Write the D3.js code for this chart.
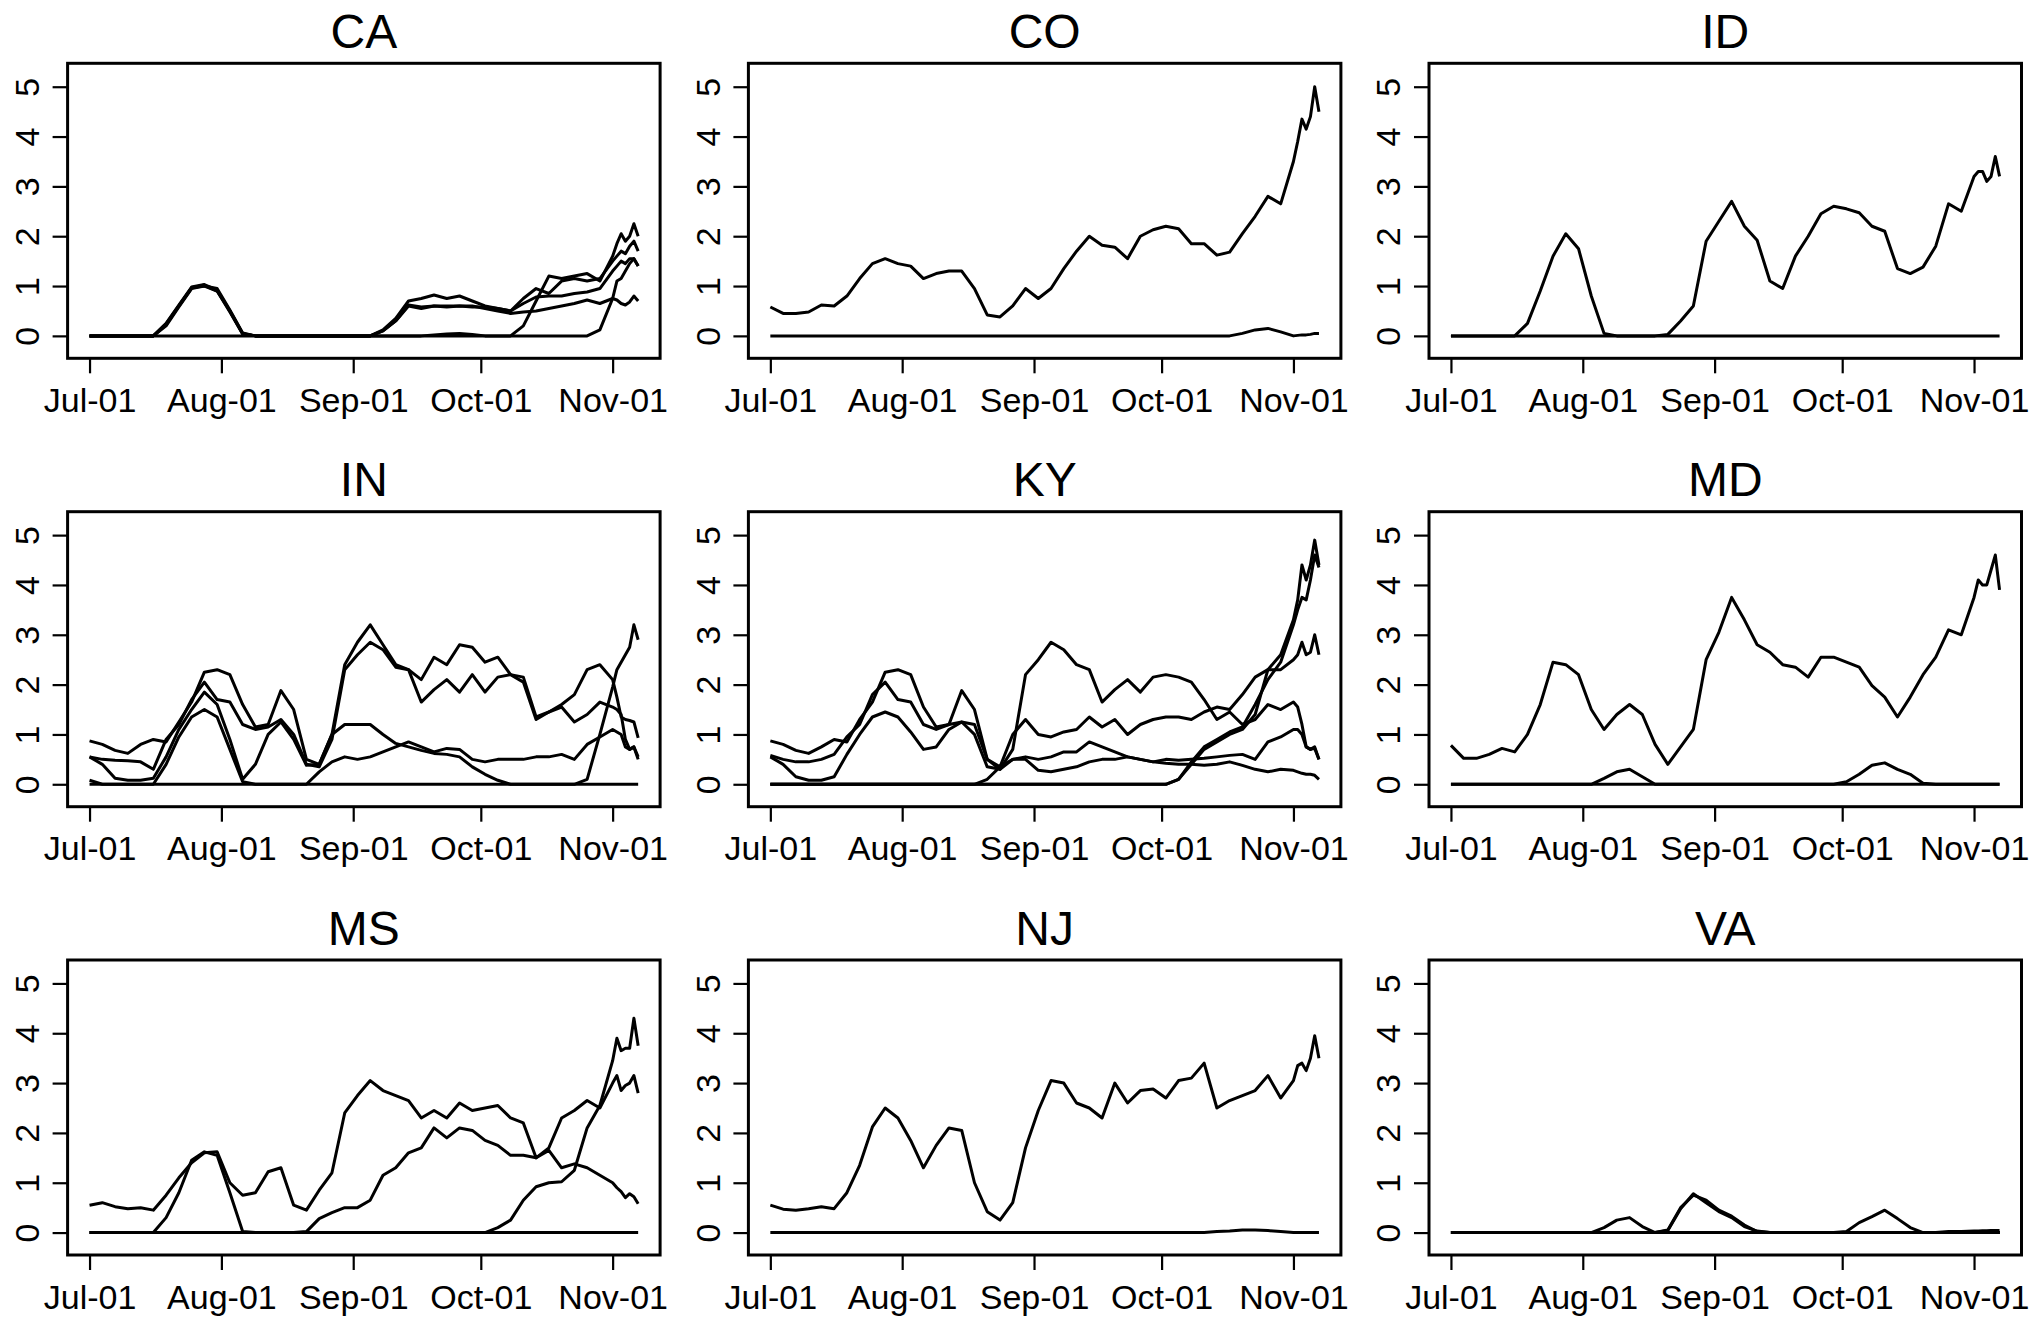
<!DOCTYPE html>
<html>
<head>
<meta charset="utf-8">
<script src="https://cdn.jsdelivr.net/npm/d3@7"></script>
<style>
  body { margin: 0; background: #fff; }
  text { font-family: "Liberation Sans", Arial, Helvetica, sans-serif; fill: #000; }
</style>
</head>
<body>
<script>
const days = [0,3,6,9,12,15,18,21,24,27,30,33,
              36,39,42,45,48,51,54,57,60,63,66,69,
              72,75,78,81,84,87,90,93,96,99,102,105,
              108,111,114,117,120,123,124,125,126,127,128,129]

const stateNames = ["CA", "CO", "ID", "IN", "KY", "MD", "MS", "NJ", "VA"]
const yTicks = [0, 1, 2, 3, 4, 5]
const monthTicks = ["2020-07-01", "2020-08-01", "2020-09-01", "2020-10-01", "2020-11-01"]

const CA = [
  [0,0,0,0,0,0,0.25,0.62,0.98,1.03,0.92,0.5,
   0.05,0,0,0,0,0,0,0,0,0,0,0.12,
   0.35,0.7,0.75,0.82,0.75,0.8,0.7,0.6,0.55,0.5,0.75,0.95,
   0.85,1.1,1.15,1.1,1.15,1.5,1.6,1.7,1.65,1.8,1.9,1.7],
  [0,0,0,0,0,0,0.22,0.6,0.97,1.0,0.9,0.48,
   0.04,0,0,0,0,0,0,0,0,0,0,0.1,
   0.3,0.62,0.58,0.6,0.58,0.6,0.58,0.58,0.55,0.5,0.65,0.78,
   0.8,0.8,0.85,0.88,0.95,1.3,1.4,1.5,1.45,1.55,1.55,1.4],
  [0,0,0,0,0,0,0.2,0.58,0.95,1.0,0.95,0.52,
   0.06,0,0,0,0,0,0,0,0,0,0,0.1,
   0.3,0.6,0.55,0.6,0.6,0.6,0.6,0.55,0.5,0.45,0.48,0.5,
   0.55,0.6,0.65,0.72,0.65,0.75,0.72,0.65,0.62,0.68,0.8,0.7],
  [0,0,0,0,0,0,0,0,0,0,0,0,
   0,0,0,0,0,0,0,0,0,0,0,0,
   0,0,0,0.02,0.04,0.05,0.03,0,0,0,0.2,0.7,
   1.2,1.15,1.2,1.25,1.1,1.6,1.85,2.05,1.9,2.0,2.25,2.0],
  [0,0,0,0,0,0,0.24,0.6,0.96,1.02,0.9,0.5,
   0.04,0,0,0,0,0,0,0,0,0,0,0,
   0,0,0,0,0,0,0,0,0,0,0,0,
   0,0,0,0,0.12,0.75,1.1,1.15,1.3,1.45,1.55,1.4]
]

const CO = [
  [0.58,0.45,0.45,0.48,0.62,0.6,0.8,1.15,1.45,1.55,1.45,1.4,
   1.15,1.25,1.3,1.3,0.95,0.42,0.38,0.6,0.95,0.75,0.95,1.35,
   1.7,2.0,1.82,1.78,1.55,2.0,2.13,2.2,2.15,1.85,1.85,1.62,
   1.68,2.05,2.4,2.8,2.65,3.5,3.9,4.35,4.15,4.4,5.0,4.5],
  [0,0,0,0,0,0,0,0,0,0,0,0,
   0,0,0,0,0,0,0,0,0,0,0,0,
   0,0,0,0,0,0,0,0,0,0,0,0,
   0,0.05,0.12,0.15,0.08,0,0.01,0.02,0.02,0.03,0.05,0.05]
]

const ID = [
  [0,0,0,0,0,0,0.25,0.9,1.6,2.05,1.75,0.8,
   0.05,0,0,0,0,0.03,0.3,0.6,1.9,2.3,2.7,2.2,
   1.92,1.1,0.95,1.6,2.0,2.45,2.6,2.55,2.47,2.2,2.1,1.35,
   1.25,1.38,1.8,2.65,2.5,3.2,3.3,3.3,3.1,3.2,3.6,3.2],
  [0,0,0,0,0,0,0,0,0,0,0,0,
   0,0,0,0,0,0,0,0,0,0,0,0,
   0,0,0,0,0,0,0,0,0,0,0,0,
   0,0,0,0,0,0,0,0,0,0,0,0]
]

const IN = [
  [0.87,0.8,0.68,0.62,0.8,0.9,0.85,1.25,1.65,2.25,2.3,2.2,
   1.6,1.15,1.2,1.88,1.5,0.5,0.4,1.0,2.4,2.85,3.2,2.8,
   2.4,2.3,2.1,2.55,2.4,2.8,2.75,2.45,2.55,2.2,2.15,1.35,
   1.45,1.6,1.8,2.3,2.4,2.1,1.75,1.35,1.3,1.28,1.25,0.93],
  [0.55,0.5,0.48,0.47,0.45,0.3,0.9,1.2,1.7,2.05,1.7,1.65,
   1.2,1.1,1.15,1.3,1.0,0.4,0.35,0.9,2.3,2.6,2.85,2.7,
   2.35,2.3,1.65,1.9,2.1,1.85,2.2,1.85,2.15,2.2,2.05,1.3,
   1.45,1.55,1.25,1.4,1.65,1.55,1.5,1.4,0.9,0.7,0.75,0.5],
  [0.55,0.4,0.12,0.08,0.08,0.12,0.55,1.1,1.5,1.85,1.6,0.9,
   0.1,0.4,1.0,1.25,0.9,0.38,0.4,1.0,1.2,1.2,1.2,1.0,
   0.82,0.75,0.68,0.62,0.6,0.55,0.35,0.2,0.08,0,0,0,
   0,0,0,0.1,1.0,1.95,2.3,2.45,2.6,2.75,3.2,2.9],
  [0.08,0,0,0,0,0,0.4,0.95,1.35,1.5,1.35,0.7,
   0.05,0,0,0,0,0,0.25,0.45,0.55,0.5,0.55,0.65,
   0.75,0.85,0.75,0.65,0.72,0.7,0.5,0.45,0.5,0.5,0.5,0.55,
   0.55,0.6,0.5,0.8,0.95,1.1,1.05,1.0,0.75,0.7,0.75,0.55],
  [0,0,0,0,0,0,0,0,0,0,0,0,
   0,0,0,0,0,0,0,0,0,0,0,0,
   0,0,0,0,0,0,0,0,0,0,0,0,
   0,0,0,0,0,0,0,0,0,0,0,0]
]

const KY = [
  [0.87,0.8,0.68,0.62,0.75,0.9,0.85,1.3,1.65,2.25,2.3,2.2,
   1.55,1.15,1.2,1.88,1.5,0.5,0.35,1.0,1.3,1.0,0.95,1.05,
   1.1,1.35,1.15,1.3,1.0,1.2,1.3,1.35,1.35,1.3,1.45,1.55,
   1.5,1.8,2.15,2.3,2.3,2.5,2.6,2.85,2.6,2.65,3.0,2.6],
  [0.58,0.5,0.45,0.45,0.5,0.6,0.95,1.2,1.8,2.05,1.7,1.65,
   1.2,1.1,1.2,1.25,1.2,0.5,0.3,0.7,2.2,2.5,2.85,2.7,
   2.4,2.3,1.65,1.9,2.1,1.85,2.15,2.2,2.15,2.05,1.7,1.3,
   1.45,1.2,1.3,1.6,1.5,1.65,1.55,1.2,0.75,0.7,0.72,0.5],
  [0.55,0.4,0.15,0.08,0.08,0.15,0.6,1.0,1.35,1.45,1.35,1.05,
   0.7,0.75,1.1,1.25,1.0,0.35,0.3,0.5,0.5,0.28,0.25,0.3,
   0.35,0.45,0.5,0.5,0.55,0.5,0.45,0.42,0.4,0.4,0.38,0.4,
   0.45,0.38,0.3,0.25,0.3,0.28,0.25,0.22,0.2,0.2,0.18,0.1],
  [0,0,0,0,0,0,0,0,0,0,0,0,
   0,0,0,0,0,0.1,0.35,0.5,0.55,0.5,0.55,0.65,
   0.65,0.85,0.75,0.65,0.55,0.5,0.45,0.5,0.48,0.5,0.52,0.55,
   0.58,0.6,0.5,0.85,0.95,1.1,1.1,1.0,0.75,0.7,0.75,0.5],
  [0,0,0,0,0,0,0,0,0,0,0,0,
   0,0,0,0,0,0,0,0,0,0,0,0,
   0,0,0,0,0,0,0,0,0.1,0.4,0.7,0.85,
   1.0,1.1,1.4,2.3,2.6,3.3,3.7,4.4,4.1,4.4,4.9,4.4],
  [0,0,0,0,0,0,0,0,0,0,0,0,
   0,0,0,0,0,0,0,0,0,0,0,0,
   0,0,0,0,0,0,0,0,0.1,0.45,0.75,0.9,
   1.05,1.15,1.6,2.1,2.45,3.2,3.5,3.75,3.7,4.1,4.6,4.35]
]

const MD = [
  [0.78,0.52,0.52,0.6,0.72,0.65,1.0,1.6,2.45,2.4,2.2,1.5,
   1.1,1.4,1.6,1.4,0.8,0.4,0.75,1.1,2.5,3.05,3.75,3.3,
   2.8,2.65,2.4,2.35,2.15,2.55,2.55,2.45,2.35,1.98,1.75,1.35,
   1.75,2.2,2.55,3.1,3.0,3.75,4.1,4.0,4.0,4.3,4.6,3.9],
  [0,0,0,0,0,0,0,0,0,0,0,0,
   0.12,0.25,0.3,0.15,0,0,0,0,0,0,0,0,
   0,0,0,0,0,0,0,0.05,0.2,0.38,0.43,0.3,
   0.2,0.02,0,0,0,0,0,0,0,0,0,0],
  [0,0,0,0,0,0,0,0,0,0,0,0,
   0,0,0,0,0,0,0,0,0,0,0,0,
   0,0,0,0,0,0,0,0,0,0,0,0,
   0,0,0,0,0,0,0,0,0,0,0,0]
]

const MS = [
  [0.55,0.6,0.52,0.48,0.5,0.45,0.75,1.1,1.4,1.6,1.62,1.0,
   0.75,0.8,1.22,1.3,0.55,0.45,0.85,1.2,2.4,2.75,3.05,2.85,
   2.75,2.65,2.3,2.45,2.3,2.6,2.45,2.5,2.55,2.3,2.2,1.5,
   1.65,1.3,1.38,1.3,1.15,1.0,0.9,0.82,0.7,0.78,0.72,0.58],
  [0,0,0,0,0,0,0.3,0.8,1.45,1.62,1.55,0.8,
   0.02,0,0,0,0,0.02,0.28,0.4,0.5,0.5,0.65,1.15,
   1.3,1.6,1.7,2.1,1.9,2.1,2.05,1.85,1.75,1.55,1.55,1.5,
   1.7,2.3,2.45,2.65,2.5,3.0,3.15,2.85,2.95,3.0,3.15,2.8],
  [0,0,0,0,0,0,0,0,0,0,0,0,
   0,0,0,0,0,0,0,0,0,0,0,0,
   0,0,0,0,0,0,0,0,0.1,0.25,0.65,0.92,
   1.0,1.02,1.25,2.1,2.55,3.45,3.9,3.65,3.7,3.7,4.3,3.75],
  [0,0,0,0,0,0,0,0,0,0,0,0,
   0,0,0,0,0,0,0,0,0,0,0,0,
   0,0,0,0,0,0,0,0,0,0,0,0,
   0,0,0,0,0,0,0,0,0,0,0,0]
]

const NJ = [
  [0.55,0.47,0.45,0.48,0.52,0.48,0.8,1.35,2.12,2.5,2.3,1.85,
   1.3,1.75,2.1,2.05,1.0,0.42,0.25,0.6,1.7,2.45,3.05,3.0,
   2.6,2.5,2.3,3.0,2.6,2.85,2.88,2.7,3.05,3.1,3.4,2.5,
   2.65,2.75,2.85,3.15,2.7,3.05,3.35,3.4,3.25,3.5,3.95,3.5],
  [0,0,0,0,0,0,0,0,0,0,0,0,
   0,0,0,0,0,0,0,0,0,0,0,0,
   0,0,0,0,0,0,0,0,0,0,0,0.02,
   0.03,0.05,0.05,0.04,0.02,0,0,0,0,0,0,0]
]

const VA = [
  [0,0,0,0,0,0,0,0,0,0,0,0,
   0.1,0.25,0.3,0.12,0,0,0,0,0,0,0,0,
   0,0,0,0,0,0,0,0,0,0,0,0,
   0,0,0,0,0,0,0,0,0,0,0,0],
  [0,0,0,0,0,0,0,0,0,0,0,0,
   0,0,0,0,0,0.05,0.5,0.75,0.65,0.45,0.33,0.15,
   0.02,0,0,0,0,0,0,0,0,0,0,0,
   0,0,0,0,0,0,0,0,0,0,0,0],
  [0,0,0,0,0,0,0,0,0,0,0,0,
   0,0,0,0,0,0.04,0.48,0.78,0.6,0.42,0.3,0.12,
   0.03,0,0,0,0,0,0,0,0,0,0,0,
   0,0,0,0,0,0,0,0,0,0,0,0],
  [0,0,0,0,0,0,0,0,0,0,0,0,
   0,0,0,0,0,0,0,0,0,0,0,0,
   0,0,0,0,0,0,0,0.02,0.2,0.32,0.45,0.28,
   0.1,0,0,0,0,0,0,0,0,0,0,0],
  [0,0,0,0,0,0,0,0,0,0,0,0,
   0,0,0,0,0,0,0,0,0,0,0,0,
   0,0,0,0,0,0,0,0,0,0,0,0,
   0,0,0,0.02,0.02,0.03,0.03,0.035,0.035,0.04,0.04,0.04],
  [0,0,0,0,0,0,0,0,0,0,0,0,
   0,0,0,0,0,0,0,0,0,0,0,0,
   0,0,0,0,0,0,0,0,0,0,0,0,
   0,0,0,0,0,0,0,0,0,0,0,0]
]

const seriesByState = [CA, CO, ID, IN, KY, MD, MS, NJ, VA]

var width = 2038
var height = 1318
const colLeft = [67.6, 748.4, 1429]
const rowTop = [63.3, 511.7, 960]
const boxW = 592.5
const boxH = 295

const DAY = 864e5
const start = Date.UTC(2020, 6, 1)
const toDate = d => new Date(start + d * DAY)
const fmt = d3.utcFormat("%b-%d")

const svg = d3.select("body").append("svg")
    .attr("width", width)
    .attr("height", height)

// x padded 4% on each side like base R
const x = d3.scaleUtc()
    .domain([toDate(-5.16), toDate(134.16)])
    .range([0, boxW])

const y = d3.scaleLinear()
    .domain([-0.45, 5.47])
    .range([boxH, 0])

const line = d3.line()
    .x((v, i) => x(toDate(days[i])))
    .y(v => y(v))

stateNames.forEach((name, k) => {
    const col = k % 3
    const row = Math.floor(k / 3)
    const g = svg.append("g")
        .attr("transform", `translate(${colLeft[col]},${rowTop[row]})`)

    g.selectAll("path.series")
        .data(seriesByState[k])
        .enter()
        .append("path")
        .attr("class", "series")
        .attr("d", line)
        .attr("fill", "none")
        .attr("stroke", "#000")
        .attr("stroke-width", 3)
        .attr("stroke-linejoin", "round")

    g.append("rect")
        .attr("width", boxW)
        .attr("height", boxH)
        .attr("fill", "none")
        .attr("stroke", "#000")
        .attr("stroke-width", 3)

    const xAxis = g.append("g")
        .attr("transform", `translate(0,${boxH})`)
        .call(d3.axisBottom(x)
            .tickValues(monthTicks.map(s => new Date(s + "T00:00:00Z")))
            .tickFormat(fmt)
            .tickSize(15))
    xAxis.select(".domain").remove()
    xAxis.selectAll("line").attr("stroke-width", 2.2)
    xAxis.selectAll("text")
        .attr("y", 53.5)
        .attr("dy", null)
        .style("font-size", "34px")
        .style("font-family", "'Liberation Sans', Arial, sans-serif")

    const yAxis = g.append("g")
        .call(d3.axisLeft(y)
            .tickValues(yTicks)
            .tickFormat(d3.format("d"))
            .tickSize(15))
    yAxis.select(".domain").remove()
    yAxis.selectAll("line").attr("stroke-width", 2.2)
    yAxis.selectAll("text")
        .attr("x", 0)
        .attr("y", 0)
        .attr("dy", null)
        .attr("text-anchor", "middle")
        .attr("transform", "translate(-28.6,0) rotate(-90)")
        .style("font-size", "34px")
        .style("font-family", "'Liberation Sans', Arial, sans-serif")

    g.append("text")
        .attr("x", boxW / 2)
        .attr("y", -15.5)
        .attr("text-anchor", "middle")
        .style("font-size", "48px")
        .text(name)
})
</script>
</body>
</html>
